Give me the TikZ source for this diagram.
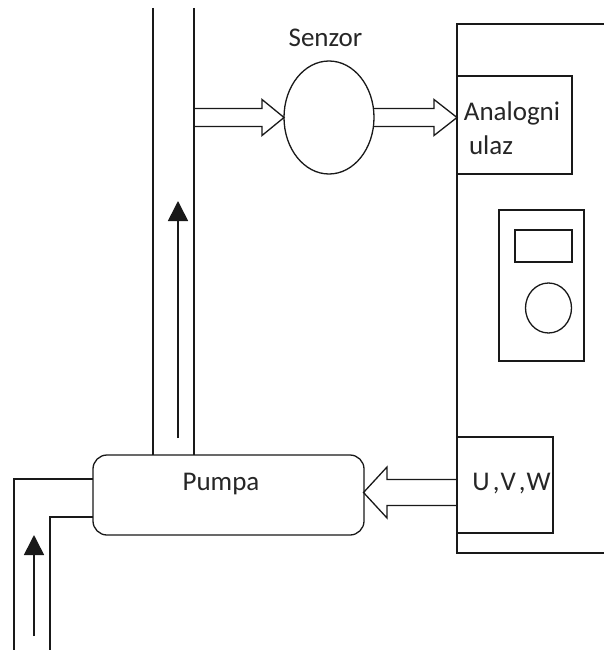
\documentclass[tikz,border=0pt]{standalone}
\usepackage{fontspec}
\setmainfont{Carlito}
\usetikzlibrary{shapes.geometric,arrows.meta}
\tikzset{
  line/.style={draw=black!90,line width=1.3pt},
  boxn/.style={line,rectangle,inner sep=0pt,outer sep=0pt,fill=white},
  round/.style={line,ellipse,inner sep=0pt,outer sep=0pt,fill=white},
  txt/.style={inner sep=0pt,text=black!85,font=\fontsize{27}{27}\selectfont},
  flow/.style={line,-{Triangle[length=20pt,width=20pt]},line width=1.6pt},
  hollow/.style={line,line join=miter}
}
\begin{document}
\begin{tikzpicture}[x=1pt,y=-1pt]
\useasboundingbox[fill=white] (0,0) rectangle (604,650);
% panel
\coordinate (pTR) at (604,24);
\coordinate (pTL) at (457,24);
\coordinate (pBL) at (457,553);
\coordinate (pBR) at (604,553);
\draw[line] (pTR) -- (pTL) -- (pBL) -- (pBR);
% boxes
\node[boxn,minimum width=115pt,minimum height=98pt] (analog) at (514.5,125) {};
\node[boxn,minimum width=96pt,minimum height=96pt] (uvw) at (505,485) {};
\node[boxn,minimum width=85pt,minimum height=151pt] (device) at (541.5,285.5) {};
\node[boxn,minimum width=57pt,minimum height=32pt] (screen) at (543.5,246) {};
\node[round,minimum width=46pt,minimum height=50pt] (knob) at (548.5,308) {};
% pipes
\node[line,rectangle,rounded corners=14pt,inner sep=0pt,outer sep=0pt,fill=white,minimum width=271pt,minimum height=80pt] (pump) at (228.5,495) {};
\coordinate (upL) at (153,8);
\coordinate (upR) at (194,8);
\coordinate (upLb) at (153,455);
\coordinate (upRb) at (194,455);
\draw[line] (upL) -- (upLb);
\draw[line] (upR) -- (upRb);
\coordinate (inO) at (14,650);
\coordinate (inOc) at (14,479);
\coordinate (inOe) at (93,479);
\coordinate (inI) at (50,650);
\coordinate (inIc) at (50,517);
\coordinate (inIe) at (93,517);
\draw[line] (inO) -- (inOc) -- (inOe);
\draw[line] (inI) -- (inIc) -- (inIe);
% sensor
\node[round,minimum width=90pt,minimum height=113pt] (sensor) at (329,117.5) {};
% flow arrows
\coordinate (f1s) at (178,438);
\coordinate (f1e) at (178,201);
\draw[flow] (f1s) -- (f1e);
\coordinate (f2s) at (34,636);
\coordinate (f2e) at (34,535);
\draw[flow] (f2s) -- (f2e);
% hollow arrows
\coordinate (h1) at (194,117.5);
\draw[hollow] ([yshift=9pt]h1) -- ++(68,0) -- ++(0,-9) -- (sensor.west) -- ++(-22,18) -- ++(0,-9) -- ([yshift=-9pt]h1);
\draw[hollow] ([yshift=9pt]sensor.east) -- ++(60,0) -- ++(0,-9) -- (analog.west |- sensor.east) -- ++(-23,18) -- ++(0,-9) -- ([yshift=-9pt]sensor.east);
\coordinate (h3) at (457,492.5);
\coordinate (h3t) at (363.5,492.5);
\draw[hollow] ([yshift=13pt]h3) -- ++(-70,0) -- ++(0,-12.5) -- (h3t) -- ++(23.5,25.5) -- ++(0,-12.5) -- ([yshift=-13pt]h3);
% labels
\node[txt] (lsenzor) at (325.5,38) {Senzor};
\node[txt] (lanalog) at (512,113) {Analogni};
\node[txt] (lulaz) at (491,145) {ulaz};
\node[txt] (lpumpa) at (221,484) {Pumpa};
\node[txt] (luvw) at (511.5,484) {U\kern3pt,\kern1pt V\kern3pt,\kern1pt W};
\end{tikzpicture}
\end{document}
